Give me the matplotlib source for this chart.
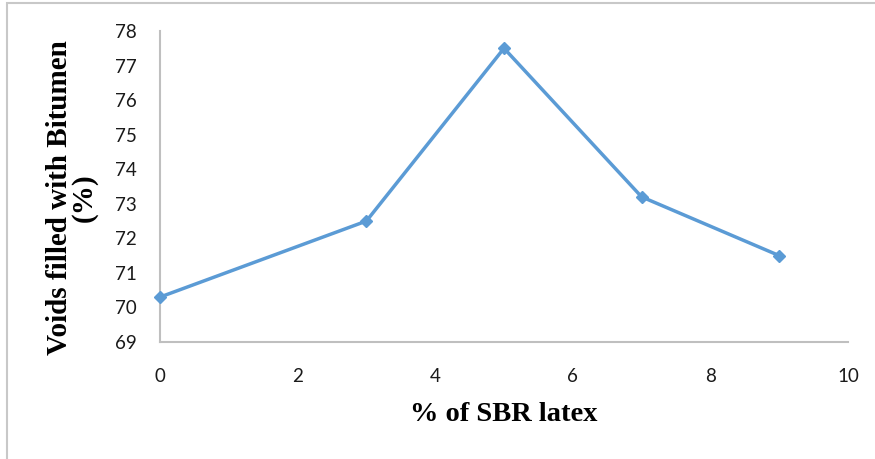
import matplotlib
matplotlib.use("Agg")
import matplotlib.pyplot as plt
from matplotlib.patches import Rectangle

sbr = [0, 3, 5, 7, 9]
vfb = [70.3, 72.5, 77.5, 73.2, 71.5]
xticks = [0, 2, 4, 6, 8, 10]
yticks = [69, 70, 71, 72, 73, 74, 75, 76, 77, 78]

fig = plt.figure(figsize=(8.75, 4.59), dpi=100)
W, H = 875, 459
ax = fig.add_axes([160 / W, 1 - 342 / H, (848 - 160) / W, (342 - 31) / H])

ax.plot(sbr, vfb, color="#5B9BD5", lw=2.5, marker="D", ms=6, mfc="#5B9BD5", mec="#5B9BD5",
        clip_on=False, zorder=5)
ax.set_xlim(0, 10)
ax.set_ylim(69, 78)
ax.set_xticks(xticks)
ax.set_yticks(yticks)
for s in ["top", "right"]:
    ax.spines[s].set_visible(False)
for s in ["left", "bottom"]:
    ax.spines[s].set_color("#bfbfbf")
    ax.spines[s].set_linewidth(1.5)
ax.tick_params(length=0, labelsize=13.5, labelcolor="#1a1a1a")
ax.tick_params(axis="x", pad=19)
ax.tick_params(axis="y", pad=17)
for lab in ax.get_xticklabels() + ax.get_yticklabels():
    lab.set_family("Lato")

ax.set_xlabel("% of SBR latex", family="Liberation Serif", fontweight="bold", fontsize=20.5, labelpad=12)
ax.set_ylabel("Voids filled with Bitumen\n(%)", family="Liberation Serif", fontweight="bold",
              fontsize=21, linespacing=0.9)
ax.yaxis.set_label_coords(-0.09, 0.463)

fig.patches.append(Rectangle((7 / W, -0.1), (W + 20) / W, 1 - 3 / H + 0.1, transform=fig.transFigure,
                             fill=False, edgecolor="#c8c8c8", lw=1.5))

fig.savefig("out.png", dpi=100)
